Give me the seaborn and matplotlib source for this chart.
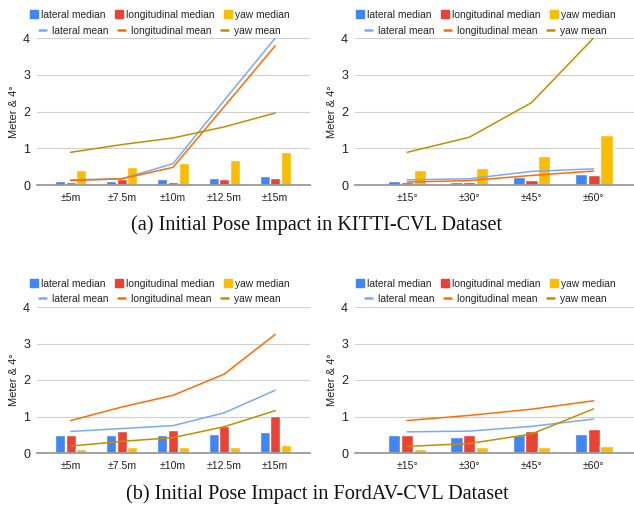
import numpy as np
import pandas as pd
import matplotlib
matplotlib.use("Agg")
import matplotlib.pyplot as plt
from matplotlib.lines import Line2D
import seaborn as sns

# ---------------- data ----------------
dist_cats = ["±5m", "±7.5m", "±10m", "±12.5m", "±15m"]
ang_cats = ["±15°", "±30°", "±45°", "±60°"]

# KITTI - translation
k_d_lat_med = [0.12, 0.12, 0.17, 0.18, 0.24]
k_d_lon_med = [0.09, 0.16, 0.09, 0.17, 0.20]
k_d_yaw_med = [0.42, 0.50, 0.61, 0.67, 0.89]
k_d_lat_mean = [0.14, 0.17, 0.58, 2.30, 4.00]
k_d_lon_mean = [0.12, 0.17, 0.48, 2.13, 3.79]
k_d_yaw_mean = [0.89, 1.10, 1.28, 1.58, 1.96]

# KITTI - rotation
k_a_lat_med = [0.11, 0.09, 0.21, 0.31]
k_a_lon_med = [0.08, 0.09, 0.14, 0.28]
k_a_yaw_med = [0.42, 0.47, 0.78, 1.37]
k_a_lat_mean = [0.14, 0.17, 0.37, 0.44]
k_a_lon_mean = [0.08, 0.12, 0.26, 0.38]
k_a_yaw_mean = [0.89, 1.30, 2.24, 4.00]

# FordAV - translation
f_d_lat_med = [0.48, 0.48, 0.49, 0.51, 0.58]
f_d_lon_med = [0.50, 0.60, 0.63, 0.73, 1.02]
f_d_yaw_med = [0.11, 0.16, 0.16, 0.16, 0.21]
f_d_lat_mean = [0.59, 0.67, 0.75, 1.10, 1.72]
f_d_lon_mean = [0.89, 1.26, 1.58, 2.16, 3.25]
f_d_yaw_mean = [0.19, 0.32, 0.42, 0.72, 1.16]

# FordAV - rotation
f_a_lat_med = [0.48, 0.45, 0.49, 0.53]
f_a_lon_med = [0.50, 0.49, 0.60, 0.67]
f_a_yaw_med = [0.11, 0.16, 0.16, 0.18]
f_a_lat_mean = [0.58, 0.60, 0.73, 0.93]
f_a_lon_mean = [0.89, 1.03, 1.20, 1.43]
f_a_yaw_mean = [0.18, 0.26, 0.52, 1.21]

median_names = ["lateral median", "longitudinal median", "yaw median"]
mean_names = ["lateral mean", "longitudinal mean", "yaw mean"]
bar_colors = {"lateral median": "#4285F4", "longitudinal median": "#EA4335", "yaw median": "#FBBC04"}
line_colors = {"lateral mean": "#7BAAF7", "longitudinal mean": "#FF6D01", "yaw mean": "#BF9000"}

captions = ["(a) Initial Pose Impact in KITTI-CVL Dataset",
            "(b) Initial Pose Impact in FordAV-CVL Dataset"]

# ---------------- style ----------------
sns.set_theme(style="white")
plt.rcParams["font.family"] = ["Liberation Sans", "DejaVu Sans"]

W, H = 634, 505
fig = plt.figure(figsize=(W / 100, H / 100), dpi=100)


def fx(px):
    return px / W


def fy(py):
    return 1 - py / H


panels = [
    dict(cats=dist_cats, med=[k_d_lat_med, k_d_lon_med, k_d_yaw_med],
         mean=[k_d_lat_mean, k_d_lon_mean, k_d_yaw_mean],
         box=(37, 38, 310, 185), xlim=(-0.66, 4.68), leg=(160, 15, 31)),
    dict(cats=ang_cats, med=[k_a_lat_med, k_a_lon_med, k_a_yaw_med],
         mean=[k_a_lat_mean, k_a_lon_mean, k_a_yaw_mean],
         box=(355, 38, 634, 185), xlim=(-0.84, 3.65), leg=(486, 15, 31)),
    dict(cats=dist_cats, med=[f_d_lat_med, f_d_lon_med, f_d_yaw_med],
         mean=[f_d_lat_mean, f_d_lon_mean, f_d_yaw_mean],
         box=(37, 307, 310, 453), xlim=(-0.66, 4.68), leg=(160, 284, 299)),
    dict(cats=ang_cats, med=[f_a_lat_med, f_a_lon_med, f_a_yaw_med],
         mean=[f_a_lat_mean, f_a_lon_mean, f_a_yaw_mean],
         box=(355, 307, 634, 453), xlim=(-0.84, 3.65), leg=(486, 284, 299)),
]

for p in panels:
    x0, y0, x1, y1 = p["box"]
    ax = fig.add_axes([fx(x0), fy(y1), fx(x1 - x0), (y1 - y0) / H])
    cats = p["cats"]
    bar_df = pd.DataFrame({
        "cat": np.repeat([cats], 3, axis=0).ravel(),
        "series": np.repeat(median_names, len(cats)),
        "value": np.concatenate(p["med"]),
    })
    sns.barplot(data=bar_df, x="cat", y="value", hue="series", order=cats,
                hue_order=median_names, palette=bar_colors, width=0.62,
                gap=0.05, legend=False, ax=ax, saturation=1)
    line_df = pd.DataFrame({
        "pos": np.tile(np.arange(len(cats)), 3),
        "series": np.repeat(mean_names, len(cats)),
        "value": np.concatenate(p["mean"]),
    })
    sns.lineplot(data=line_df, x="pos", y="value", hue="series",
                 hue_order=mean_names, palette=line_colors, lw=1.1,
                 legend=False, ax=ax, sort=False)
    ax.set_ylim(0, 4)
    ax.set_xlim(*p["xlim"])
    ax.set_yticks([0, 1, 2, 3, 4])
    ax.grid(axis="y", color="#d0d0d0", lw=0.8)
    ax.set_axisbelow(True)
    for s in ["top", "right", "left"]:
        ax.spines[s].set_visible(False)
    ax.spines["bottom"].set_color("#9a9a9a")
    ax.spines["bottom"].set_linewidth(1.3)
    ax.tick_params(axis="both", length=0, colors="#222222")
    ax.tick_params(axis="y", labelsize=9, pad=5)
    ax.tick_params(axis="x", labelsize=7.6, pad=6)
    ax.set_xlabel("")
    ax.set_ylabel("Meter & 4°", fontsize=8, color="#222222")
    ax.yaxis.set_label_coords(-(37 - 19) / (x1 - x0), 0.5)

    cx, ry1, ry2 = p["leg"]
    h1 = [Line2D([], [], marker="s", ls="", color=bar_colors[n], markersize=5.5)
          for n in median_names]
    h2 = [Line2D([], [], color=line_colors[n], lw=1.8) for n in mean_names]
    fig.legend(h1, median_names, loc="center", bbox_to_anchor=(fx(cx), fy(ry1)),
               ncol=3, frameon=False, fontsize=7.4, handlelength=0.7,
               handletextpad=0.4, columnspacing=0.9, borderpad=0, borderaxespad=0)
    fig.legend(h2, mean_names, loc="center", bbox_to_anchor=(fx(cx), fy(ry2)),
               ncol=3, frameon=False, fontsize=7.4, handlelength=0.7,
               handletextpad=0.6, columnspacing=0.9, borderpad=0, borderaxespad=0)

fig.text(fx(317), fy(225), captions[0], ha="center", va="center",
         fontsize=14.6, family=["Liberation Serif", "DejaVu Serif"], color="#111111")
fig.text(fx(317), fy(494), captions[1], ha="center", va="center",
         fontsize=14.6, family=["Liberation Serif", "DejaVu Serif"], color="#111111")

fig.savefig("out.png", dpi=100, facecolor="white")
